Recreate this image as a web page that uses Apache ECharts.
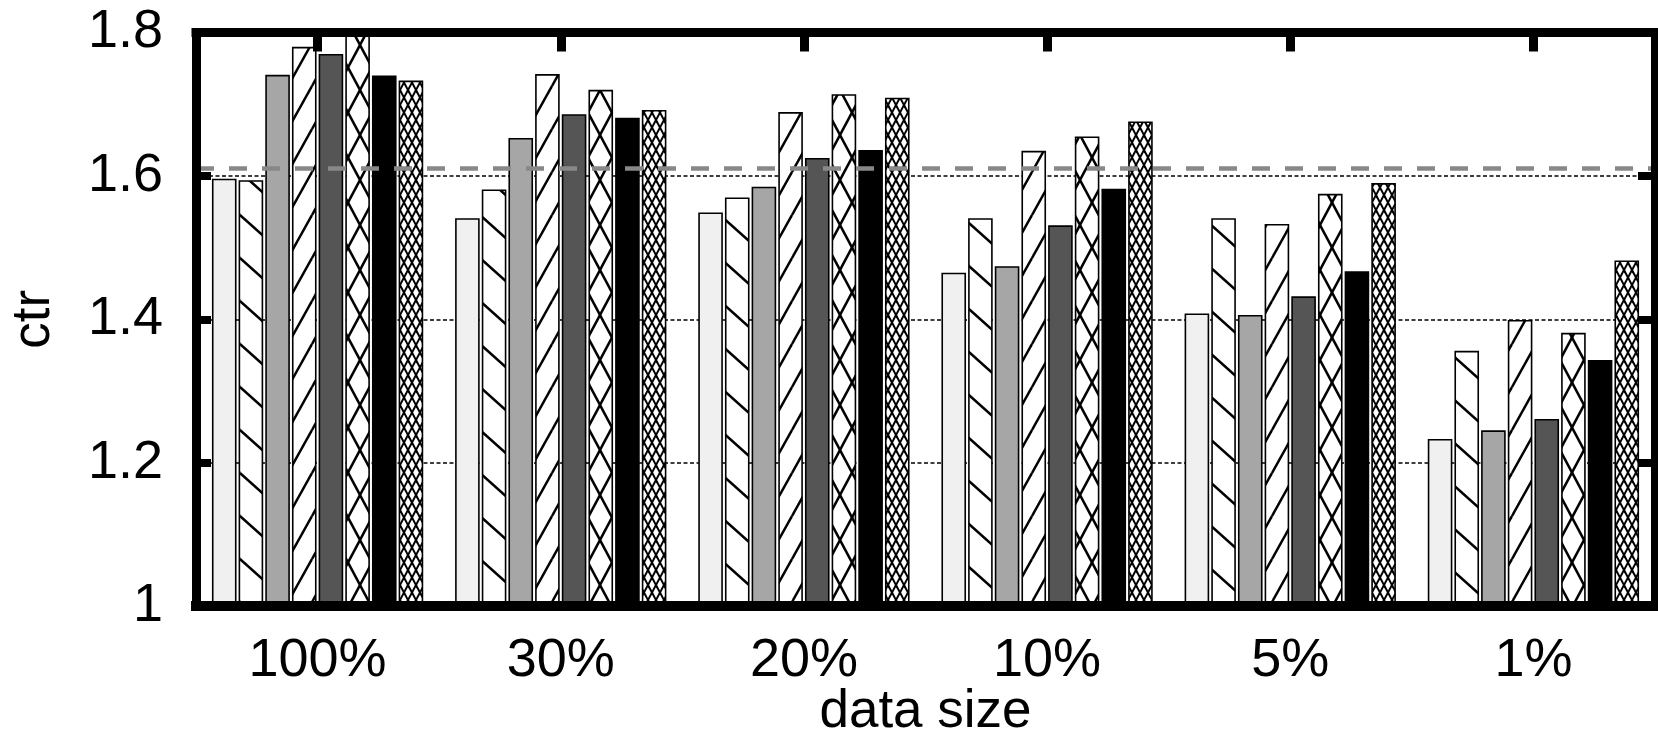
<!DOCTYPE html>
<html><head><meta charset="utf-8">
<script src="https://cdn.jsdelivr.net/npm/echarts@6/dist/echarts.min.js"></script>
<style>html,body{margin:0;padding:0;background:#fff}#c{width:1658px;height:737px}</style>
</head><body><div id="c"></div>
<script>
// ---- data ----
const categories = ['100%', '30%', '20%', '10%', '5%', '1%'];
const yMin = 1, yMax = 1.8, yStep = 0.2;
const referenceValue = 1.615;
const lightGreyBars   = [1.596, 1.541, 1.549, 1.465, 1.408, 1.233];
const backslashBars   = [1.594, 1.581, 1.570, 1.541, 1.541, 1.356];
const greyBars        = [1.741, 1.653, 1.585, 1.474, 1.406, 1.245];
const slashBars       = [1.780, 1.742, 1.689, 1.635, 1.533, 1.399];
const darkGreyBars    = [1.770, 1.686, 1.625, 1.531, 1.432, 1.261];
const crossBars       = [1.810, 1.720, 1.714, 1.655, 1.575, 1.381];
const blackBars       = [1.740, 1.681, 1.636, 1.582, 1.467, 1.343];
const denseCrossBars  = [1.733, 1.692, 1.709, 1.676, 1.590, 1.482];

// ---- patterns ----
function hatch(w, h, segs, lw) {
  const c = document.createElement('canvas');
  c.width = w; c.height = h;
  const g = c.getContext('2d');
  g.fillStyle = '#fff'; g.fillRect(0, 0, w, h);
  g.strokeStyle = '#000'; g.lineWidth = lw;
  for (const s of segs) {
    for (let dx = -w; dx <= w; dx += w) for (let dy = -h; dy <= h; dy += h) {
      g.beginPath(); g.moveTo(s[0] + dx, s[1] + dy); g.lineTo(s[2] + dx, s[3] + dy); g.stroke();
    }
  }
  return { image: c, repeat: 'repeat' };
}
const patBackslash = hatch(48, 43, [[0, 0, 48, 43]], 2.5);
const patSlash = hatch(24, 43, [[0, 43, 24, 0]], 2.5);
const patCross = hatch(24, 45, [[0, 0, 24, 45], [0, 45, 24, 0]], 2.5);
const patDense = hatch(8, 15, [[0, 0, 8, 15], [0, 15, 8, 0]], 2);

const FONT = 'Liberation Sans, Arial, sans-serif';

function bar(name, data, color, extra) {
  return Object.assign({
    name, type: 'bar', data, xAxisIndex: 0, yAxisIndex: 0,
    barCategoryGap: '13.1%', barGap: '8.4%', clip: true,
    itemStyle: { color, borderColor: '#000', borderWidth: 1.6 },
    emphasis: { disabled: true }
  }, extra || {});
}

const chart = echarts.init(document.getElementById('c'), null, { renderer: 'canvas' });
const yFmt = v => String(+v.toFixed(1));
chart.setOption({
  animation: false,
  backgroundColor: '#fff',
  grid: { left: 196, right: 3, top: 32.5, bottom: 131, containLabel: false, outerBoundsMode: 'none' },
  xAxis: [
    {
      type: 'category', data: categories, position: 'bottom', z: 10,
      axisLine: { show: true, lineStyle: { color: '#000', width: 10, cap: 'square' } },
      axisTick: { show: false },
      axisLabel: { fontSize: 54, fontFamily: FONT, color: '#000', margin: 28, interval: 0 },
      name: 'data size', nameLocation: 'middle', nameGap: 80, nameMoveOverlap: false,
      nameTextStyle: { fontSize: 53, fontFamily: FONT, color: '#000' }
    },
    {
      type: 'category', data: categories, position: 'top', z: 10,
      axisLine: { show: true, lineStyle: { color: '#000', width: 9, cap: 'square' } },
      axisTick: { show: true, inside: true, alignWithLabel: true, interval: 0, length: 19, lineStyle: { color: '#000', width: 9 } },
      axisLabel: { show: false }
    }
  ],
  yAxis: [
    {
      type: 'value', min: yMin, max: yMax, interval: yStep, position: 'left', z: 0,
      axisLine: { show: false }, axisTick: { show: false },
      splitLine: { show: true, lineStyle: { color: '#000', width: 1.5, type: [4, 2.5] } },
      axisLabel: { fontSize: 54, fontFamily: FONT, color: '#000', margin: 33, formatter: yFmt },
      name: 'ctr', nameLocation: 'middle', nameGap: 135, nameRotate: 90, nameMoveOverlap: false,
      nameTextStyle: { fontSize: 53, fontFamily: FONT, color: '#000' }
    },
    {
      type: 'value', min: yMin, max: yMax, interval: yStep, position: 'left', z: 10,
      axisLine: { show: true, onZero: false, lineStyle: { color: '#000', width: 9, cap: 'square' } },
      axisTick: { show: true, inside: true, length: 15, lineStyle: { color: '#000', width: 8 } },
      axisLabel: { show: false }, splitLine: { show: false }
    },
    {
      type: 'value', min: yMin, max: yMax, interval: yStep, position: 'right', z: 10,
      axisLine: { show: true, onZero: false, lineStyle: { color: '#000', width: 9, cap: 'square' } },
      axisTick: { show: true, inside: true, length: 17, lineStyle: { color: '#000', width: 8 } },
      axisLabel: { show: false }, splitLine: { show: false }
    }
  ],
  series: [
    bar('s1', lightGreyBars, '#f0f0f0'),
    bar('s2', backslashBars, patBackslash),
    bar('s3', greyBars, '#a6a6a6'),
    bar('s4', slashBars, patSlash),
    bar('s5', darkGreyBars, '#555555'),
    bar('s6', crossBars, patCross),
    bar('s7', blackBars, '#000000'),
    bar('s8', denseCrossBars, patDense, {
      markLine: {
        silent: true, symbol: 'none', z: 5, label: { show: false },
        lineStyle: { color: '#888', width: 4.5, type: [18, 15] },
        data: [{ yAxis: referenceValue }]
      }
    })
  ]
});
</script></body></html>
